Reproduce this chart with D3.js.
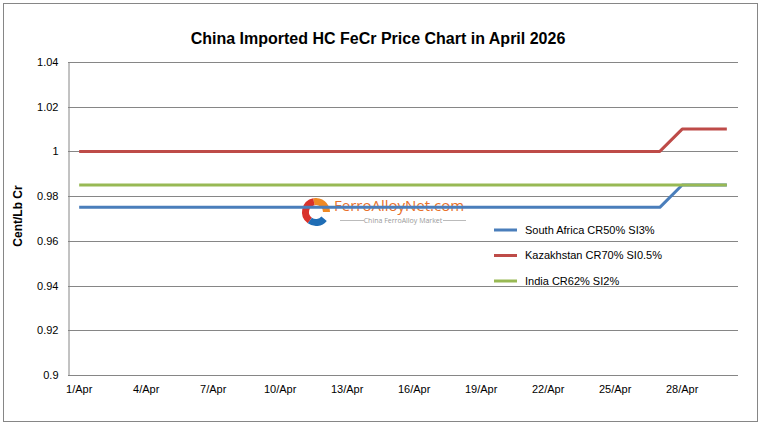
<!DOCTYPE html>
<html>
<head>
<meta charset="utf-8">
<script src="https://cdn.jsdelivr.net/npm/d3@7"></script>
<style>
  html, body { margin: 0; padding: 0; background: #fff; }
  svg { display: block; font-family: Arial, "Liberation Sans", sans-serif; }
</style>
</head>
<body>
<div id="chart"></div>
<script>
// ── Data ────────────────────────────────────────────────────────────────
const dates = d3.range(1, 31).map(d => `${d}/Apr`);
const southAfrica = [0.975,0.975,0.975,0.975,0.975,0.975,0.975,0.975,0.975,0.975,
                     0.975,0.975,0.975,0.975,0.975,0.975,0.975,0.975,0.975,0.975,
                     0.975,0.975,0.975,0.975,0.975,0.975,0.975,0.985,0.985,0.985];
const kazakhstan  = [1,1,1,1,1,1,1,1,1,1,
                     1,1,1,1,1,1,1,1,1,1,
                     1,1,1,1,1,1,1,1.01,1.01,1.01];
const india       = [0.985,0.985,0.985,0.985,0.985,0.985,0.985,0.985,0.985,0.985,
                     0.985,0.985,0.985,0.985,0.985,0.985,0.985,0.985,0.985,0.985,
                     0.985,0.985,0.985,0.985,0.985,0.985,0.985,0.985,0.985,0.985];
const yTicks = [0.9, 0.92, 0.94, 0.96, 0.98, 1, 1.02, 1.04];

const series = [
  { name: 'South Africa CR50% SI3%',  values: southAfrica, color: '#4a7ebb' },
  { name: 'Kazakhstan CR70% SI0.5%',  values: kazakhstan,  color: '#be4b48' },
  { name: 'India CR62% SI2%',         values: india,       color: '#98b954' },
];

// ── Layout ──────────────────────────────────────────────────────────────
const W = 766, H = 427;
const plot = { left: 68, right: 738, top: 62, bottom: 375 };

const svg = d3.select('#chart').append('svg')
  .attr('width', W).attr('height', H);

svg.append('rect')
  .attr('x', 3.5).attr('y', 3.5).attr('width', 754).attr('height', 418)
  .attr('fill', '#fff').attr('stroke', '#868686').attr('stroke-width', 1);

const x = d3.scaleBand().domain(dates).range([plot.left, plot.right]);
const y = d3.scaleLinear().domain([0.9, 1.04]).range([plot.bottom, plot.top]);
const cx = d => x(d) + x.bandwidth() / 2;

// Grid lines
svg.append('g').selectAll('line')
  .data(yTicks.filter(t => t > 0.9))
  .join('line')
  .attr('x1', plot.left).attr('x2', plot.right)
  .attr('y1', d => Math.round(y(d)) + 0.5).attr('y2', d => Math.round(y(d)) + 0.5)
  .attr('stroke', '#868686');

// Axes (Excel style)
const yAxis = svg.append('g')
  .attr('transform', `translate(${plot.left + 0.5},0)`)
  .call(d3.axisLeft(y).tickValues(yTicks).tickSize(0).tickPadding(10)
    .tickFormat(d => d3.format('')(+d.toFixed(2))));
yAxis.select('.domain').attr('stroke', '#868686');
yAxis.selectAll('text').attr('font-size', 11).attr('fill', '#000')
  .attr('font-family', 'Arial, "Liberation Sans", sans-serif');

const xAxis = svg.append('g')
  .attr('transform', `translate(0,${plot.bottom + 0.5})`)
  .call(d3.axisBottom(x).tickValues(dates.filter((d, i) => i % 3 === 0)).tickSize(0).tickPadding(10));
xAxis.select('.domain').attr('stroke', '#868686').attr('d', `M${plot.left},0H${plot.right}`);
xAxis.selectAll('text').attr('font-size', 11).attr('fill', '#000')
  .attr('font-family', 'Arial, "Liberation Sans", sans-serif');

// Watermark
const wm = svg.append('g').attr('transform', 'translate(316,212)');
const arc = d3.arc();
wm.append('path').attr('fill', '#f08a24')
  .attr('d', arc({ innerRadius: 7, outerRadius: 14, startAngle: -0.2, endAngle: Math.PI * 0.5 }));
wm.append('path').attr('fill', '#d9322b')
  .attr('d', arc({ innerRadius: 7, outerRadius: 14, startAngle: -Math.PI * 0.8, endAngle: -0.2 }));
wm.append('path').attr('fill', '#1f6db5')
  .attr('d', arc({ innerRadius: 7, outerRadius: 14, startAngle: Math.PI * 0.72, endAngle: Math.PI * 1.2 }));
wm.append('text').attr('x', 18).attr('y', -1)
  .attr('font-size', 15).attr('fill', '#e8702a')
  .attr('font-family', '"Open Sans", "Noto Sans", sans-serif')
  .text('FerroAlloyNet.com');
wm.append('line').attr('x1', 24).attr('x2', 48).attr('y1', 8.5).attr('y2', 8.5).attr('stroke', '#bbb');
wm.append('line').attr('x1', 127).attr('x2', 150).attr('y1', 8.5).attr('y2', 8.5).attr('stroke', '#bbb');
wm.append('text').attr('x', 87).attr('y', 11)
  .attr('text-anchor', 'middle').attr('font-size', 7).attr('fill', '#999')
  .attr('font-family', '"Open Sans", "Noto Sans", sans-serif')
  .text('China FerroAlloy Market');

// Lines
const line = d3.line().x((d, i) => cx(dates[i])).y(d => y(d));
svg.append('g').selectAll('path')
  .data(series)
  .join('path')
  .attr('d', d => line(d.values))
  .attr('fill', 'none')
  .attr('stroke', d => d.color)
  .attr('stroke-width', 3)
  .attr('stroke-linejoin', 'round');

// Legend
const leg = svg.append('g').selectAll('g')
  .data(series)
  .join('g')
  .attr('transform', (d, i) => `translate(494,${230 + i * 25.5})`);
leg.append('line').attr('x1', 0).attr('x2', 23)
  .attr('stroke', d => d.color).attr('stroke-width', 3);
leg.append('text').attr('x', 31).attr('dy', '0.35em')
  .attr('font-size', 11).attr('fill', '#000')
  .text(d => d.name);

// Title & axis title
svg.append('text')
  .attr('x', 378).attr('y', 44)
  .attr('text-anchor', 'middle')
  .attr('font-size', 16).attr('font-weight', 'bold')
  .text('China Imported HC FeCr Price Chart in April 2026');

svg.append('text')
  .attr('transform', 'translate(22,216) rotate(-90)')
  .attr('text-anchor', 'middle')
  .attr('font-size', 12).attr('font-weight', 'bold')
  .text('Cent/Lb Cr');
</script>
</body>
</html>
